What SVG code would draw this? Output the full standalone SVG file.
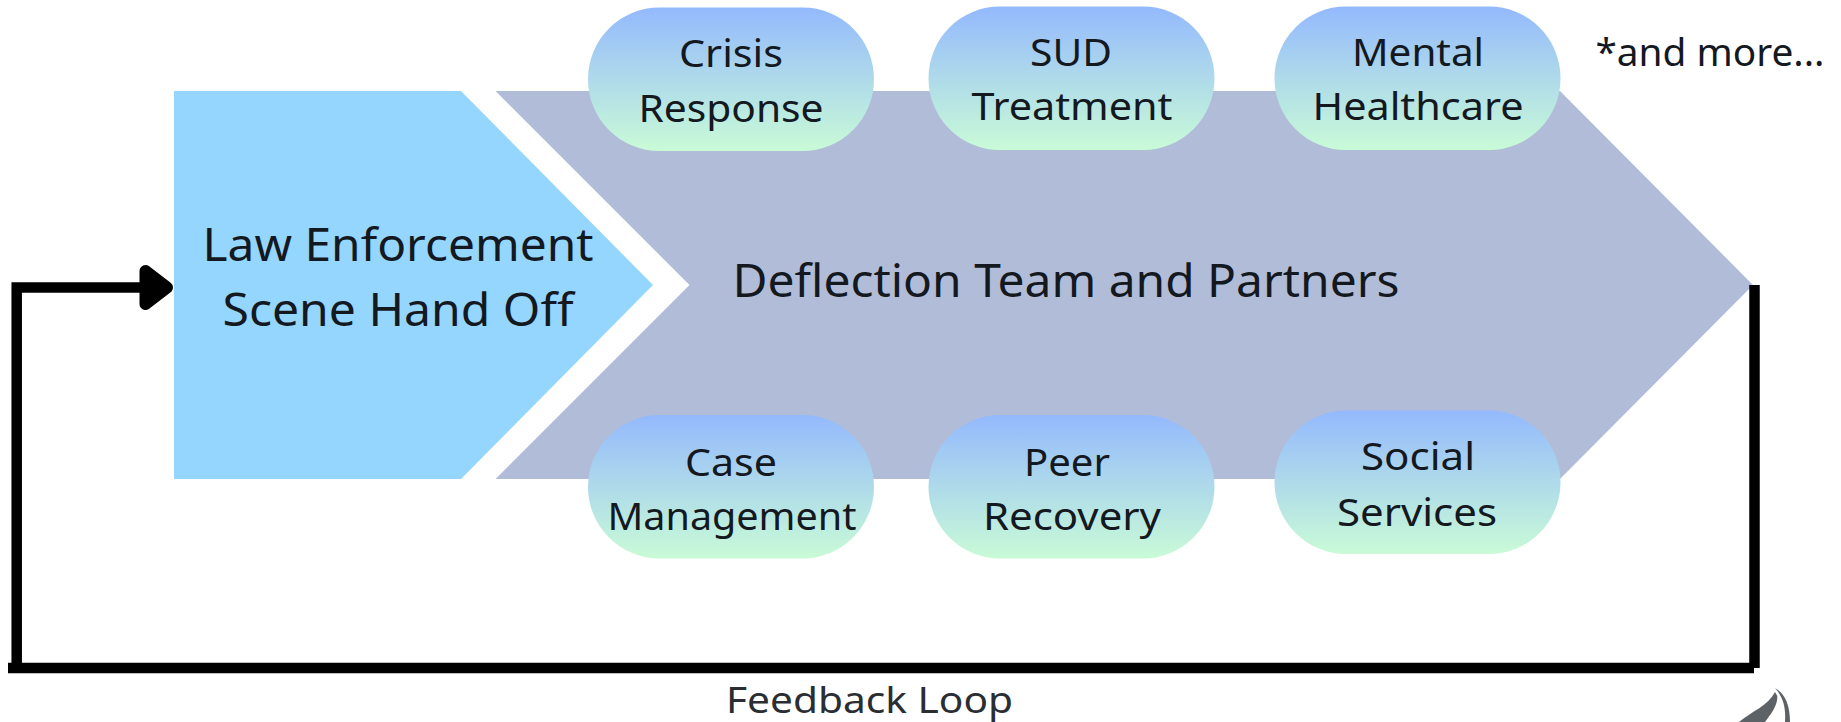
<svg xmlns="http://www.w3.org/2000/svg" width="1841" height="722" viewBox="0 0 1841 722">
<style>
text{font-family:"Noto Sans","Open Sans","Liberation Sans",sans-serif;fill:#14181f;text-anchor:middle}
.big{font-size:46px}
.pill{font-size:38px}
.conn{fill:none;stroke:#000;stroke-width:10.5;stroke-linejoin:miter}
</style>
<defs>
<linearGradient id="pg" x1="0" y1="0" x2="0" y2="1"><stop offset="0" stop-color="#94b9fd"/><stop offset="1" stop-color="#c9fbd7"/></linearGradient>
<rect id="pillShape" width="286" height="143.5" rx="71.5" ry="71.5" fill="url(#pg)"/>
</defs>
<rect width="1841" height="722" fill="#fff"/>
<g id="node-deflection">
<polygon points="495.5,91 1560,91 1753,285 1560,479 495.5,479 689.5,285" fill="#b1bdd8"/>
<text class="big" x="1066" y="297" textLength="667" lengthAdjust="spacingAndGlyphs">Deflection Team and Partners</text>
</g>
<g id="node-law">
<polygon points="174,91 461,91 653,285 461,479 174,479" fill="#94d6fe"/>
<text class="big" x="398" y="261" textLength="391" lengthAdjust="spacingAndGlyphs">Law Enforcement</text>
<text class="big" x="398" y="326" textLength="351" lengthAdjust="spacingAndGlyphs">Scene Hand Off</text>
</g>
<g id="node-crisis">
<use href="#pillShape" x="588" y="7.5"/>
<text class="pill" x="731" y="67" textLength="104" lengthAdjust="spacingAndGlyphs">Crisis</text>
<text class="pill" x="731" y="121.5" textLength="185" lengthAdjust="spacingAndGlyphs">Response</text>
</g>
<g id="node-sud">
<use href="#pillShape" x="928.5" y="6.5"/>
<text class="pill" x="1071" y="65.5" textLength="82" lengthAdjust="spacingAndGlyphs">SUD</text>
<text class="pill" x="1072" y="119.5" textLength="201" lengthAdjust="spacingAndGlyphs">Treatment</text>
</g>
<g id="node-mental">
<use href="#pillShape" x="1274.5" y="6.5"/>
<text class="pill" x="1418" y="65.5" textLength="132" lengthAdjust="spacingAndGlyphs">Mental</text>
<text class="pill" x="1418" y="119.5" textLength="211" lengthAdjust="spacingAndGlyphs">Healthcare</text>
</g>
<g id="node-case">
<use href="#pillShape" x="588" y="415"/>
<text class="pill" x="731" y="476" textLength="92" lengthAdjust="spacingAndGlyphs">Case</text>
<text class="pill" x="732" y="530" textLength="249" lengthAdjust="spacingAndGlyphs">Management</text>
</g>
<g id="node-peer">
<use href="#pillShape" x="928.5" y="415"/>
<text class="pill" x="1067" y="476" textLength="86" lengthAdjust="spacingAndGlyphs">Peer</text>
<text class="pill" x="1072" y="530" textLength="178" lengthAdjust="spacingAndGlyphs">Recovery</text>
</g>
<g id="node-social">
<use href="#pillShape" x="1274.5" y="410.5"/>
<text class="pill" x="1418" y="469.5" textLength="114" lengthAdjust="spacingAndGlyphs">Social</text>
<text class="pill" x="1417" y="525.5" textLength="160" lengthAdjust="spacingAndGlyphs">Services</text>
</g>
<g id="connectors">
<path class="conn" d="M1754.5,285V668"/>
<path class="conn" d="M1754,668H8"/>
<path class="conn" d="M16.7,668V287.5H142"/>
<polygon points="145.5,271 167,287.5 145.5,304" fill="#000" stroke="#000" stroke-width="12" stroke-linejoin="round"/>
</g>
<text class="pill" x="1710" y="65.5" textLength="229" lengthAdjust="spacingAndGlyphs">*and more...</text>
<text class="pill" x="869.5" y="712.5" textLength="287" lengthAdjust="spacingAndGlyphs" style="fill:#2a2e33;font-size:36px">Feedback Loop</text>
<g id="logo" fill="#5c6266">
<path d="M1739,722C1752,711 1768,706 1775,692L1777.3,696C1778,705 1771,714 1765,722Z"/>
<path d="M1775,688C1784,693 1790,703 1790,722H1785C1786,707 1783,697 1775,688Z"/>
</g>
</svg>
